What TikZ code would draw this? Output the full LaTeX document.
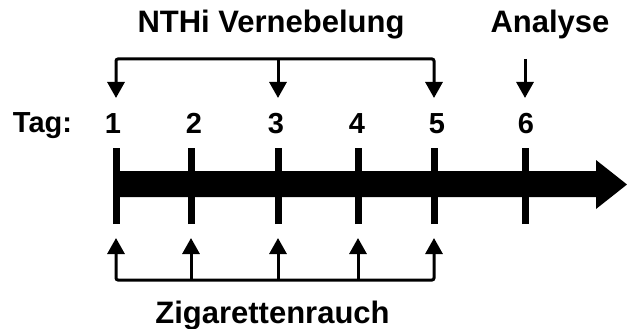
\documentclass[tikz,border=0pt]{standalone}
\usepackage{fontspec}
\setmainfont{Liberation Sans}
\usetikzlibrary{arrows.meta}
\begin{document}
\begin{tikzpicture}[x=1pt,y=-1pt,
  title/.style={font=\fontsize{31}{37}\selectfont\bfseries, anchor=base, inner sep=0pt},
  daynum/.style={font=\fontsize{29}{35}\selectfont\bfseries, anchor=base, inner sep=0pt},
  brk/.style={line width=3pt, rounded corners=2pt, line cap=butt},
  tip/.style={-{Triangle[width=17pt,length=16pt]}},
  tips/.style={{Triangle[width=17pt,length=16pt]}-{Triangle[width=17pt,length=16pt]}},
  tick/.style={line width=7pt}]
\useasboundingbox (0,0) rectangle (627,329);

% day positions on the time line
\foreach \n/\x in {1/116,2/191,3/278,4/358,5/434,6/525}{
  \coordinate (t\n) at (\x,184);
  \coordinate (top\n) at (\x,98);
  \coordinate (bot\n) at (\x,238);
}
\coordinate (upper) at (0,59);
\coordinate (lower) at (0,280);

% time line arrow
\fill (116,171) -- (596,171) -- (596,160) -- (627,184.5) -- (596,209) -- (596,197) -- (116,197) -- cycle;

% day ticks
\foreach \n in {1,...,6}{
  \draw[tick] ([yshift=-40pt]t\n) -- ([yshift=36pt]t\n);
}

% labels
\node[daynum] (tag) at (42.5,132) {Tag:};
\foreach \n/\x in {1/113,2/194,3/276,4/357,5/437,6/526}{
  \node[daynum] (d\n) at (\x,133) {\n};
}
\node[title] (neb) at (271,33) {NTHi Vernebelung};
\node[title] (ana) at (550,33) {Analyse};
\node[title] (zig) at (272.5,323) {Zigarettenrauch};

% nebulisation bracket (days 1, 3, 5)
\draw[brk,tips] (top1) -- (top1 |- upper) -- (top5 |- upper) -- (top5);
\draw[brk,tip] (top3 |- upper) -- (top3);

% analysis arrow
\draw[brk,tip] (top6 |- upper) -- (top6);

% cigarette smoke bracket (days 1 to 5)
\draw[brk,tips] (bot1) -- (bot1 |- lower) -- (bot5 |- lower) -- (bot5);
\foreach \n in {2,3,4}{
  \draw[brk,tip] (bot\n |- lower) -- (bot\n);
}
\end{tikzpicture}
\end{document}
